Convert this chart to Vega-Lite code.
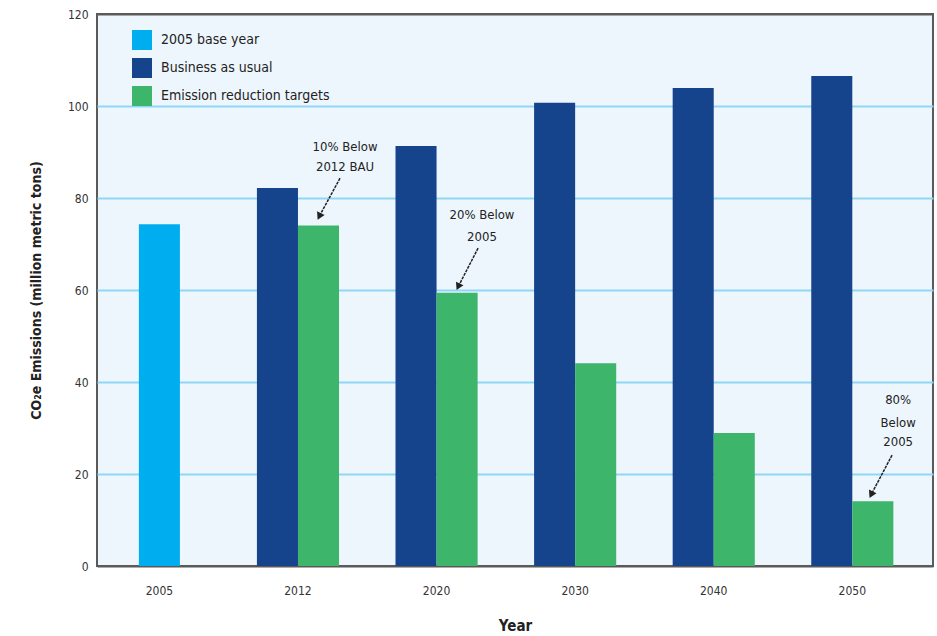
{
  "$schema": "https://vega.github.io/schema/vega-lite/v6.json",
  "width": 836,
  "height": 552,
  "autosize": {"type": "none"},
  "padding": {"left": 97, "top": 14, "right": 4, "bottom": 70},
  "background": "white",
  "config": {
    "font": "DejaVu Sans Condensed, Liberation Sans, sans-serif",
    "view": {"fill": "#EEF6FD", "stroke": "#5a5a5a", "strokeWidth": 2},
    "axis": {"labelFont": "DejaVu Sans Condensed, Liberation Sans, sans-serif", "titleFont": "DejaVu Sans Condensed, Liberation Sans, sans-serif", "labelColor": "#333333", "titleColor": "#222222"},
    "legend": {"labelFont": "DejaVu Sans Condensed, Liberation Sans, sans-serif"}
  },
  "layer": [
    {
      "data": {
        "values": [
          {"year": "2005", "series": "2005 base year", "value": 74.3},
          {"year": "2012", "series": "Business as usual", "value": 82.2},
          {"year": "2012", "series": "Emission reduction targets", "value": 74.0},
          {"year": "2020", "series": "Business as usual", "value": 91.3},
          {"year": "2020", "series": "Emission reduction targets", "value": 59.4},
          {"year": "2030", "series": "Business as usual", "value": 100.7},
          {"year": "2030", "series": "Emission reduction targets", "value": 44.1},
          {"year": "2040", "series": "Business as usual", "value": 103.9},
          {"year": "2040", "series": "Emission reduction targets", "value": 28.9},
          {"year": "2050", "series": "Business as usual", "value": 106.5},
          {"year": "2050", "series": "Emission reduction targets", "value": 14.1}
        ]
      },
      "encoding": {
        "x": {
          "field": "year", "type": "nominal",
          "scale": {"paddingInner": 0.4075, "paddingOuter": 0.22, "align": 0.35},
          "axis": {"title": "Year", "labelAngle": 0, "domain": false, "ticks": false, "labelFontSize": 12, "labelPadding": 19, "titleFontSize": 15, "titleFontWeight": "bold", "titlePadding": 22}
        },
        "y": {
          "field": "value", "type": "quantitative",
          "scale": {"domain": [0, 120], "nice": false},
          "axis": {"title": "CO₂e Emissions (million metric tons)", "values": [0, 20, 40, 60, 80, 100, 120], "grid": true, "gridColor": {"condition": {"test": "datum.value === 120 || datum.value === 0", "value": "#5a5a5a"}, "value": "#8FD6F6"}, "gridWidth": 2, "domain": false, "ticks": false, "labelFontSize": 12, "labelPadding": 9, "titleFontSize": 14, "titleFontWeight": "bold", "titlePadding": 24}
        },
        "color": {
          "field": "series", "type": "nominal",
          "scale": {"domain": ["2005 base year", "Business as usual", "Emission reduction targets"], "range": ["#00AEEF", "#16448C", "#3DB56B"]},
          "legend": {"title": null, "orient": "none", "legendX": 35, "legendY": 16, "symbolType": "square", "symbolSize": 400, "symbolStrokeWidth": 0, "labelFontSize": 14, "labelColor": "#222222", "labelLimit": 0, "rowPadding": 8, "labelOffset": 9}
        }
      },
      "layer": [
        {
          "transform": [{"filter": "datum.series === '2005 base year'"}],
          "mark": {"type": "bar", "width": {"band": 0.5}}
        },
        {
          "transform": [{"filter": "datum.series !== '2005 base year'"}],
          "mark": {"type": "bar"},
          "encoding": {
            "xOffset": {"field": "series", "type": "nominal", "scale": {"domain": ["Business as usual", "Emission reduction targets"], "paddingInner": 0, "paddingOuter": 0}}
          }
        }
      ]
    },
    {
      "data": {
        "values": [
          {"pos": 1.78, "y": 91.1, "label": "10% Below"},
          {"pos": 1.78, "y": 86.7, "label": "2012 BAU"},
          {"pos": 2.763, "y": 76.3, "label": "20% Below"},
          {"pos": 2.763, "y": 71.5, "label": "2005"},
          {"pos": 5.75, "y": 36.1, "label": "80%"},
          {"pos": 5.75, "y": 31.1, "label": "Below"},
          {"pos": 5.75, "y": 27.0, "label": "2005"}
        ]
      },
      "mark": {"type": "text", "fontSize": 13, "color": "#222222", "baseline": "middle", "align": "center", "font": "DejaVu Sans Condensed, Liberation Sans, sans-serif"},
      "encoding": {
        "x": {"field": "pos", "type": "quantitative", "scale": {"domain": [0, 6], "nice": false, "zero": false}, "axis": null},
        "y": {"field": "y", "type": "quantitative"},
        "text": {"field": "label"}
      }
    },
    {
      "data": {
        "values": [
          {"x1": 1.744, "y1": 84.3, "x2": 1.595, "y2": 76.0},
          {"x1": 2.735, "y1": 69.1, "x2": 2.592, "y2": 60.7},
          {"x1": 5.706, "y1": 24.1, "x2": 5.556, "y2": 15.5}
        ]
      },
      "layer": [
        {
          "mark": {"type": "rule", "color": "#222222", "strokeWidth": 1.5, "strokeDash": [3, 1]},
          "encoding": {
            "x": {"field": "x1", "type": "quantitative", "scale": {"domain": [0, 6], "nice": false, "zero": false}, "axis": null},
            "y": {"field": "y1", "type": "quantitative"},
            "x2": {"field": "x2"},
            "y2": {"field": "y2"}
          }
        },
        {
          "mark": {"type": "point", "shape": "triangle-up", "angle": 206, "filled": true, "color": "#222222", "size": 70, "opacity": 1},
          "encoding": {
            "x": {"field": "x2", "type": "quantitative", "scale": {"domain": [0, 6], "nice": false, "zero": false}, "axis": null},
            "y": {"field": "y2", "type": "quantitative"}
          }
        }
      ]
    }
  ],
  "resolve": {"scale": {"x": "independent"}}
}
